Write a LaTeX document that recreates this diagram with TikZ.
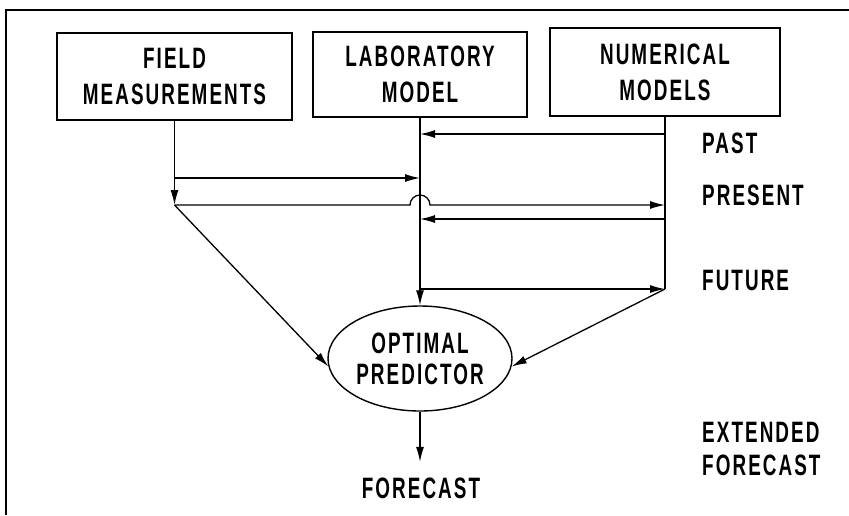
\documentclass[tikz,border=0pt]{standalone}
\usepackage{fontspec}
\setsansfont{Liberation Sans}[FakeStretch=0.64,LetterSpace=7]
\usetikzlibrary{arrows.meta,shapes.geometric}
\begin{document}
\begin{tikzpicture}[
        x=1pt, y=-1pt,
        every node/.style={font=\sffamily\bfseries\fontsize{29.5}{36}\selectfont, align=center},
        box/.style={draw, line width=1.4pt, inner sep=0pt},
        link/.style={line width=1.3pt},
        arr/.style={link, -{Latex[length=15pt,width=8pt]}},
        tag/.style={anchor=west, inner sep=0pt},
    ]
    \useasboundingbox (0,0) rectangle (849,515);
    \draw[line width=1.6pt] (6,515) -- (6,10) -- (849,10);

    \node[box, minimum width=235pt, minimum height=87pt](field) at (174.5,76.5){FIELD\\MEASUREMENTS};
    \node[box, minimum width=214pt, minimum height=85pt](lab) at (420,74.5){LABORATORY\\MODEL};
    \node[box, minimum width=230pt, minimum height=88pt](num) at (665,72){NUMERICAL\\MODELS};
    \node[draw, ellipse, line width=1.4pt, inner sep=0pt, minimum width=184pt, minimum height=105pt,
        font=\sffamily\bfseries\fontsize{29.5}{31}\selectfont](pred) at (420,358.5){OPTIMAL\\PREDICTOR};
    \node[inner xsep=0pt, inner ysep=15.5pt](fc) at (421,488){FORECAST};

    \node[tag](past) at (702,143){PAST};
    \node[tag](present) at (702,195){PRESENT};
    \node[tag](future) at (702,280){FUTURE};
    \node[tag, align=left, font=\sffamily\bfseries\fontsize{29.5}{33}\selectfont](ext) at (702,448.5){EXTENDED\\FORECAST};

    \coordinate (f1) at (174.5,178);
    \coordinate (fj) at (174.5,205);
    \coordinate (hop) at (410,205);
    \coordinate (l1) at (420,134);
    \coordinate (l2) at (420,178);
    \coordinate (l3) at (420,219);
    \coordinate (l4) at (420,289);
    \coordinate (n1) at (665,134);
    \coordinate (n2) at (665,205);
    \coordinate (n3) at (665,219);
    \coordinate (n4) at (665,289);

    \draw[arr] (field) -- (fj);
    \draw[arr] (f1) -- (l2);
    \draw[arr] (lab) -- (pred);
    \draw[link] (num) -- (n4);
    \draw[arr] (n1) -- (l1);
    \draw[arr] (fj) -- (hop) arc[start angle=180, end angle=0, radius=10pt] -- (n2);
    \draw[arr] (n3) -- (l3);
    \draw[arr] (l4) -- (n4);
    \draw[arr] (fj) -- (pred.185);
    \draw[arr] (n4) -- (pred.-5);
    \draw[arr] (pred.south) -- (pred.south |- fc.north);
\end{tikzpicture}
\end{document}
